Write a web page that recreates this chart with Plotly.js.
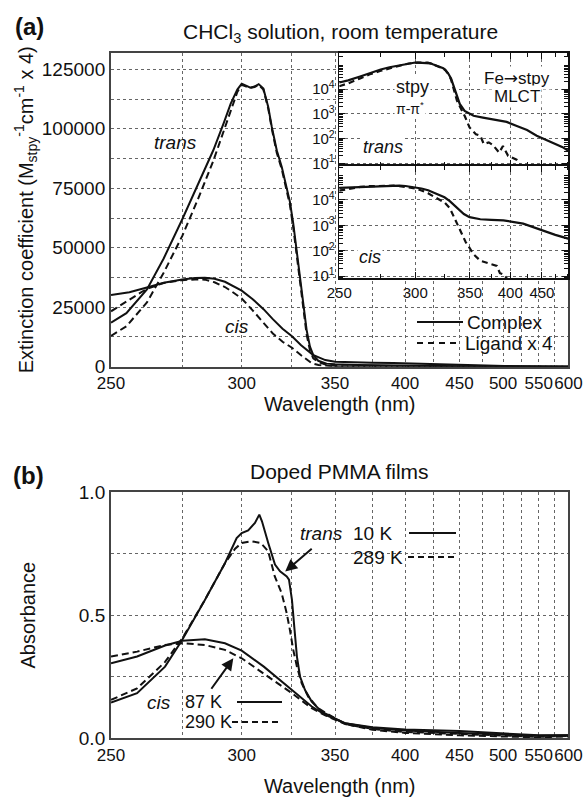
<!DOCTYPE html>
<html><head><meta charset="utf-8">
<script src="https://cdn.plot.ly/plotly-3.0.1.min.js"></script>
<style>html,body{margin:0;padding:0;background:#fff}</style>
</head><body><div id="chart" style="width:588px;height:800px"></div>
<script>
// ---------- Panel (a) + inset : CHCl3 solution (wavelength nm, extinction) ----------
const transWl = [250, 255, 262, 268, 275, 281, 287.5, 292, 295, 298, 300, 302, 304, 306, 308, 310.3, 312.7, 314.5, 317, 319.6, 322.2, 323.9, 325.7, 328.4, 331.2, 333.1, 335, 336.9, 339.8, 344.8, 350, 354.4, 365, 382, 395, 409.4, 425, 440.9, 460, 478, 490, 502, 550, 600];
const transComplex = [18500, 22500, 32500, 45500, 62000, 76000, 91000, 102500, 110500, 116500, 119000, 118200, 117300, 117800, 118800, 116900, 109200, 100800, 91000, 84000, 74200, 69300, 60200, 43400, 26600, 15400, 8400, 4900, 2500, 1300, 1000, 830, 700, 575, 470, 320, 220, 130, 85, 60, 45, 32, 20, 10];
const transLigWl = [250, 255, 262, 268, 275, 281, 287.5, 292, 295, 298, 300, 302, 304, 306, 308, 310.3, 312.7, 314.5, 317, 319.6, 322.2, 323.9, 325.7, 328.4, 331.2, 333.1, 335, 336.9, 339.8, 344.8, 350, 357, 362, 366, 372, 377, 385, 390, 397, 409, 420, 500, 600];
const transLigand = [13000, 17000, 27000, 39500, 55000, 70000, 86500, 99000, 108000, 115500, 118500, 118000, 117200, 117600, 118500, 116500, 108500, 100000, 90000, 83000, 73000, 68000, 58500, 41500, 24500, 13500, 6800, 3500, 2000, 830, 280, 150, 130, 60, 70, 55, 27, 50, 20, 14, 5, 3, 2];
const cisWl = [250, 256, 262, 268, 275, 280, 284, 288, 292.5, 296, 300, 305, 310.5, 315, 320, 325, 330, 336.7, 344, 350, 362, 375, 390.6, 419, 449.6, 475, 502, 550, 600];
const cisComplex = [30100, 31300, 33300, 35300, 36700, 37300, 37400, 37000, 35700, 34000, 32000, 28500, 24100, 20000, 16000, 12800, 9000, 5000, 2800, 2100, 1740, 1650, 1580, 1170, 630, 420, 300, 150, 80];
const cisLigWl = [250, 256, 262, 268, 275, 280, 284, 288, 292.5, 296, 300, 305, 310.5, 315, 320, 325, 330, 336, 340, 346, 350, 354, 362, 370, 377, 382, 386, 392, 400, 445, 500, 600];
const cisLigand = [23300, 28000, 32800, 35200, 36400, 36700, 36600, 35500, 33500, 31300, 28700, 23800, 18500, 14000, 10500, 8000, 4800, 1500, 700, 215, 130, 74, 40, 33, 30, 25, 13, 11, 5, 5, 3, 2];

// ---------- Panel (b) : doped PMMA films (wavelength nm, absorbance) ----------
const bWl10 = [250, 258.6, 268.5, 275, 284, 292.5, 297.7, 300, 303, 306.2, 308.3, 309.6, 312.7, 316.1, 318.7, 322.2, 323.4, 325, 326.4, 327.7, 329.4, 332.2, 336, 341.8, 350, 356.4, 375, 400, 450, 500, 550, 600];
const trans10K = [0.145, 0.183, 0.291, 0.40, 0.562, 0.711, 0.813, 0.833, 0.844, 0.874, 0.908, 0.881, 0.793, 0.705, 0.678, 0.657, 0.644, 0.562, 0.44, 0.332, 0.251, 0.196, 0.149, 0.108, 0.081, 0.061, 0.042, 0.032, 0.022, 0.015, 0.01, 0.012];
const bWl289 = [250, 258.6, 268.5, 275, 284, 292.5, 297, 300, 304.6, 309, 312.7, 316, 319.5, 322.2, 323.9, 325.7, 327.7, 330.3, 334, 339.8, 350, 356.4, 375, 400, 450, 500, 550, 600];
const trans289K = [0.156, 0.203, 0.31, 0.406, 0.562, 0.711, 0.77, 0.793, 0.80, 0.793, 0.759, 0.657, 0.59, 0.508, 0.44, 0.359, 0.291, 0.224, 0.169, 0.122, 0.081, 0.058, 0.035, 0.022, 0.012, 0.006, 0.004, 0.008];
const bWlCis = [250, 258.6, 268.5, 275, 284, 292.5, 300, 310.5, 325, 336, 344, 356.4, 375, 400, 450, 500, 550, 600];
const cis87K = [0.305, 0.332, 0.377, 0.396, 0.402, 0.386, 0.356, 0.291, 0.196, 0.129, 0.095, 0.061, 0.045, 0.036, 0.03, 0.02, 0.012, 0.012];
const cis290K = [0.332, 0.352, 0.379, 0.386, 0.379, 0.359, 0.325, 0.264, 0.183, 0.122, 0.093, 0.058, 0.038, 0.026, 0.018, 0.01, 0.006, 0.01];

// ---------- tick labels ----------
const mainTicks = [250, 300, 350, 400, 450, 500, 550, 600];
const mainMinor = [275, 325, 375, 425, 475, 525, 575];
const insetTicks = [250, 300, 350, 400, 450];
const insetMinor = [275, 325, 375, 425, 475, 500];
const yTicksA = [0, 25000, 50000, 75000, 100000, 125000];
const yMinorA = [12500, 37500, 62500, 87500, 112500];
const yTicksB = [0, 0.5, 1.0];
const yTickTextB = ['0.0', '0.5', '1.0'];
const yMinorB = [0.25, 0.75];
const logTicks = [10, 100, 1000, 10000];
const logTickText = ['10<sup>1</sup>', '10<sup>2</sup>', '10<sup>3</sup>', '10<sup>4</sup>'];

// energy-linear wavelength axis: plot against wavenumber (cm^-1), label in nm
const wn = l => 1e7 / l;
const logMinor = [];
for (let e = 0; e <= 5; e++) for (let k = 2; k <= 9; k++) logMinor.push(k * Math.pow(10, e));

const FONT = 'Liberation Sans, Arial, sans-serif';
const INK = '#111';
const solid = {color: INK, width: 2};
const dashed = {color: INK, width: 2, dash: '7px,4px'};

function tr(wl, v, line, xa, ya) {
  return {type: 'scatter', mode: 'lines', x: wl.map(wn), y: v, line: line,
    xaxis: xa, yaxis: ya, showlegend: false, hoverinfo: 'skip'};
}

const traces = [
  tr(transWl, transComplex, solid, 'x', 'y'),
  tr(transLigWl, transLigand, dashed, 'x', 'y'),
  tr(cisWl, cisComplex, solid, 'x', 'y'),
  tr(cisLigWl, cisLigand, dashed, 'x', 'y'),
  // inset
  tr(transWl, transComplex, {color: INK, width: 2.2}, 'x3', 'y3'),
  tr(transLigWl, transLigand, {color: INK, width: 2.2, dash: '6px,4px'}, 'x3', 'y3'),
  tr(cisWl, cisComplex, {color: INK, width: 2.2}, 'x4', 'y4'),
  tr(cisLigWl, cisLigand, {color: INK, width: 2.2, dash: '6px,4px'}, 'x4', 'y4'),
  // panel b
  tr(bWl10, trans10K, solid, 'x2', 'y2'),
  tr(bWl289, trans289K, dashed, 'x2', 'y2'),
  tr(bWlCis, cis87K, solid, 'x2', 'y2'),
  tr(bWlCis, cis290K, dashed, 'x2', 'y2')
];

const GRID = {showgrid: true, gridcolor: '#666', griddash: 'dot', gridwidth: 1};
const FRAME = {showline: true, mirror: true, linecolor: '#444', linewidth: 2, zeroline: false, ticks: ''};
const xMain = (anchor, dom, standoff) => Object.assign({}, GRID, FRAME, {
  anchor: anchor, domain: dom, range: [wn(250), wn(600)],
  tickmode: 'array', tickvals: mainTicks.map(wn), ticktext: mainTicks.map(String), tickangle: 0,
  minor: Object.assign({tickvals: mainMinor.map(wn), ticks: ''}, GRID),
  tickfont: {size: 17, color: INK}, title: {text: 'Wavelength (nm)', font: {size: 20, color: INK}, standoff: standoff}
});
const insetX = (anchor, labels) => Object.assign({}, GRID, {
  anchor: anchor, domain: [0.5769, 0.9667], range: [wn(250), wn(502.5)],
  tickmode: 'array', tickvals: insetTicks.map(wn), ticktext: insetTicks.map(String), tickangle: 0,
  showticklabels: labels, ticks: 'inside', ticklen: 6, tickcolor: INK,
  minor: {tickvals: insetMinor.map(wn), ticks: 'inside', ticklen: 4, tickcolor: INK, showgrid: false},
  showline: true, mirror: 'ticks', linecolor: INK, linewidth: 1.5, zeroline: false,
  tickfont: {size: 15, color: INK}
});
const insetY = (anchor, dom, rng) => Object.assign({}, GRID, {
  anchor: anchor, domain: dom, type: 'log', range: rng,
  tickmode: 'array', tickvals: logTicks, ticktext: logTickText,
  ticks: 'inside', ticklen: 6, tickcolor: INK,
  minor: {tickvals: logMinor, ticks: 'inside', ticklen: 4, tickcolor: INK, showgrid: false},
  showline: true, mirror: 'ticks', linecolor: INK, linewidth: 1.5, zeroline: false,
  tickfont: {size: 15, color: INK}
});

const P = (px) => px / 588, Q = (py) => 1 - py / 800;
function lab(text, px, py, size, extra) {
  return Object.assign({xref: 'paper', yref: 'paper', x: P(px), y: Q(py), text: text, showarrow: false,
    font: {size: size, color: INK, family: FONT}, xanchor: 'center', yanchor: 'middle'}, extra || {});
}
const WB = {bgcolor: 'white', borderpad: 1};
const ARW = '<span style="font-family:DejaVu Sans">→</span>';

const annotations = [
  lab('<b>(a)</b>', 29, 27, 24),
  lab('CHCl<sub>3</sub> solution, room temperature', 340, 33, 21),
  lab('<i>trans</i>', 175, 143, 19),
  lab('<i>cis</i>', 237, 327, 19),
  lab('stpy', 412, 87, 18, WB),
  lab('π-π<sup>*</sup>', 410, 108, 14, WB),
  lab('Fe' + ARW + 'stpy', 517, 78, 17, WB),
  lab('MLCT', 517, 97, 17, WB),
  lab('<i>trans</i>', 383, 147, 18, WB),
  lab('<i>cis</i>', 370, 257, 18, WB),
  // legend of panel (a)
  lab('Complex', 465, 322, 19, {xanchor: 'left'}),
  lab('Ligand x 4', 463, 343, 19, {xanchor: 'left'}),
  lab('<b>(b)</b>', 28, 475, 24),
  lab('Doped PMMA films', 339, 471, 21),
  lab('<i>trans</i>', 345, 533, 19, {xanchor: 'right'}),
  lab('10 K', 351, 533, 19, {xanchor: 'left'}),
  lab('289 K', 351, 557, 19, {xanchor: 'left'}),
  lab('<i>cis</i>', 173, 702, 19, {xanchor: 'right'}),
  lab('87 K', 183, 702, 18, {xanchor: 'left'}),
  lab('290 K', 183, 722, 18, {xanchor: 'left'}),
  {xref: 'x2', yref: 'y2', x: wn(321.4), y: 0.677, ax: 28, ay: -24, text: '', showarrow: true,
   arrowhead: 2, arrowsize: 1.2, arrowwidth: 2, arrowcolor: INK},
  {xref: 'x2', yref: 'y2', x: wn(296.2), y: 0.325, ax: -23, ay: 32, text: '', showarrow: true,
   arrowhead: 2, arrowsize: 1.2, arrowwidth: 2, arrowcolor: INK}
];

const sample = (x0, x1, py, dash) => ({type: 'line', xref: 'paper', yref: 'paper', x0: P(x0), x1: P(x1),
  y0: Q(py), y1: Q(py), line: {color: INK, width: 2, dash: dash || 'solid'}});
const shapes = [
  // white backdrops behind the keys (above the grid, below the curves)
  {type: 'rect', xref: 'x', yref: 'y', x0: wn(405), x1: wn(585), y0: 6000, y1: 24000,
   fillcolor: 'white', line: {width: 0}, layer: 'below'},
  {type: 'rect', xref: 'x2', yref: 'y2', x0: wn(326), x1: wn(452), y0: 0.70, y1: 0.89,
   fillcolor: 'white', line: {width: 0}, layer: 'below'},
  sample(417, 463, 322),
  sample(417, 457, 343, '6px,5px'),
  sample(409, 456, 533),
  sample(408, 456, 557, '6px,4px'),
  sample(237, 282, 702),
  sample(232, 282, 722, '6px,4px')
];

const layout = {
  width: 588, height: 800, margin: {l: 0, r: 0, t: 0, b: 0},
  paper_bgcolor: 'white', plot_bgcolor: 'white', showlegend: false,
  font: {family: FONT, color: INK},
  xaxis: xMain('y', [0.1888, 0.9667], 5),
  yaxis: Object.assign({}, GRID, FRAME, {anchor: 'x', domain: [0.5416, 0.9341], range: [0, 132000],
    tickmode: 'array', tickvals: yTicksA, ticktext: yTicksA.map(String),
    minor: Object.assign({tickvals: yMinorA, ticks: ''}, GRID),
    tickfont: {size: 19, color: INK},
    title: {text: 'Extinction coefficient (M<sub>stpy</sub><sup>-1</sup>cm<sup>-1</sup> x 4)', font: {size: 20, color: INK}}}),
  xaxis2: xMain('y2', [0.1888, 0.9667], 15),
  yaxis2: Object.assign({}, GRID, FRAME, {anchor: 'x2', domain: [0.0771, 0.385], range: [0, 1.0],
    tickmode: 'array', tickvals: yTicksB, ticktext: yTickTextB,
    minor: Object.assign({tickvals: yMinorB, ticks: ''}, GRID),
    tickfont: {size: 19, color: INK},
    title: {text: 'Absorbance', font: {size: 20, color: INK}, standoff: 38}}),
  xaxis3: insetX('y3', false),
  yaxis3: insetY('x3', [0.7931, 0.9341], [0.91, 5.47]),
  xaxis4: insetX('y4', true),
  yaxis4: insetY('x4', [0.6521, 0.7931], [0.91, 5.36]),
  annotations: annotations,
  shapes: shapes
};

Plotly.newPlot('chart', traces, layout, {displayModeBar: false, staticPlot: true});
</script>
</body></html>
